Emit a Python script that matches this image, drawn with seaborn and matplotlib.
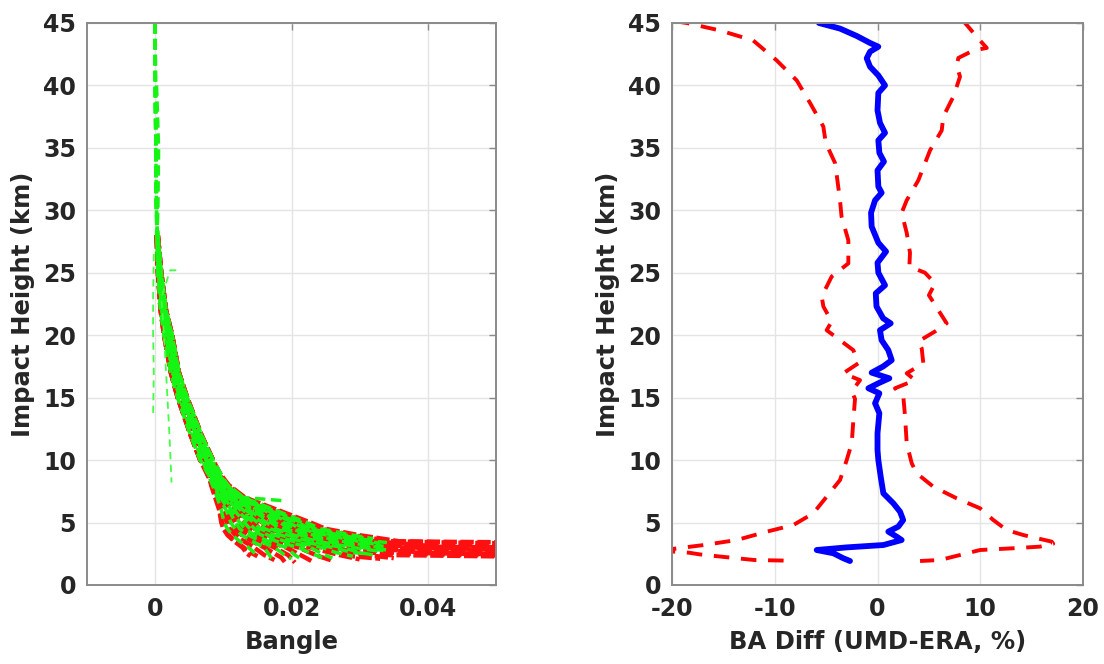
import numpy as np
import pandas as pd
import matplotlib
matplotlib.use("Agg")
import matplotlib.pyplot as plt
import seaborn as sns

N = np.nan

# ---------------- left panel: bending-angle profiles ----------------
GRID_H = [45, 40, 35, 30, 28, 25, 22, 20, 17, 15, 12, 10, 8, 7, 6, 5, 4.5, 4, 3.5, 3]

RED_PROFILES = [
    [N, N, N, N, 0.00025, 0.0005, 0.0010, 0.0016, 0.0026, 0.0036, 0.0055, 0.0069, 0.0083, 0.0090, 0.0095, 0.0098, 0.0102, 0.0108, 0.0118, 0.0130],
    [N, N, N, N, 0.0002, 0.0004, 0.0008, 0.0013, 0.0023, 0.0033, 0.0052, 0.0066, 0.0084, 0.0092, 0.0099, 0.0105, 0.0109, 0.0118, 0.0130, 0.0145],
    [N, N, N, N, 0.0003, 0.0006, 0.0012, 0.0019, 0.0029, 0.0040, 0.0060, 0.0075, 0.0082, 0.0088, 0.0094, 0.0097, 0.0100, 0.0106, 0.0116, 0.0128],
    [N, N, N, N, 0.00025, 0.0005, 0.0010, 0.0016, 0.0026, 0.0036, 0.0055, 0.0069, 0.0086, 0.0094, 0.0104, 0.0111, 0.0117, 0.0127, 0.0142, 0.0160],
    [N, N, N, N, 0.0003, 0.0006, 0.0012, 0.0019, 0.0029, 0.0040, 0.0060, 0.0075, 0.0087, 0.0096, 0.0108, 0.0118, 0.0124, 0.0137, 0.0154, 0.0175],
    [N, N, N, N, 0.00035, 0.0007, 0.0014, 0.0022, 0.0032, 0.0043, 0.0064, 0.0080, 0.0088, 0.0098, 0.0112, 0.0124, 0.0132, 0.0146, 0.0166, 0.0192],
    [N, N, N, N, 0.00025, 0.0005, 0.0010, 0.0016, 0.0026, 0.0036, 0.0055, 0.0069, 0.0089, 0.0100, 0.0116, 0.0131, 0.0139, 0.0156, 0.0178, 0.0210],
    [N, N, N, N, 0.0003, 0.0006, 0.0012, 0.0019, 0.0029, 0.0040, 0.0060, 0.0075, 0.0091, 0.0103, 0.0121, 0.0137, 0.0146, 0.0165, 0.0190, 0.0228],
    [N, N, N, N, 0.0004, 0.0009, 0.0016, 0.0025, 0.0035, 0.0047, 0.0068, 0.0085, 0.0092, 0.0105, 0.0125, 0.0144, 0.0154, 0.0175, 0.0202, 0.0245],
    [N, N, N, N, 0.0002, 0.0004, 0.0008, 0.0013, 0.0023, 0.0033, 0.0052, 0.0066, 0.0093, 0.0107, 0.0129, 0.0150, 0.0161, 0.0184, 0.0214, 0.0260],
    [N, N, N, N, 0.00035, 0.0007, 0.0014, 0.0022, 0.0032, 0.0043, 0.0064, 0.0080, 0.0094, 0.0109, 0.0133, 0.0157, 0.0169, 0.0194, 0.0226, 0.0275],
    [N, N, N, N, 0.0003, 0.0006, 0.0012, 0.0019, 0.0029, 0.0040, 0.0060, 0.0075, 0.0096, 0.0111, 0.0138, 0.0163, 0.0176, 0.0203, 0.0238, 0.0290],
    [N, N, N, N, 0.00025, 0.0005, 0.0010, 0.0016, 0.0026, 0.0036, 0.0055, 0.0069, 0.0097, 0.0113, 0.0142, 0.0170, 0.0183, 0.0213, 0.0250, 0.0305],
    [N, N, N, N, 0.0004, 0.0009, 0.0016, 0.0025, 0.0035, 0.0047, 0.0068, 0.0085, 0.0098, 0.0114, 0.0144, 0.0173, 0.0187, 0.0218, 0.0256, 0.0312],
    [N, N, N, N, 0.00035, 0.0007, 0.0014, 0.0022, 0.0032, 0.0043, 0.0064, 0.0080, 0.0098, 0.0115, 0.0146, 0.0176, 0.0191, 0.0222, 0.0262, 0.0320],
    [N, N, N, N, 0.0003, 0.0006, 0.0012, 0.0019, 0.0029, 0.0040, 0.0060, 0.0075, 0.0099, 0.0117, 0.0150, 0.0183, 0.0198, 0.0232, 0.0274, 0.0340],
    [N, N, N, N, 0.0002, 0.0004, 0.0008, 0.0013, 0.0023, 0.0033, 0.0052, 0.0066, 0.0101, 0.0119, 0.0155, 0.0189, 0.0206, 0.0241, 0.0286, 0.0360],
    [N, N, N, N, 0.00035, 0.0007, 0.0014, 0.0022, 0.0032, 0.0043, 0.0064, 0.0080, 0.0102, 0.0122, 0.0159, 0.0196, 0.0213, 0.0251, 0.0298, 0.0380],
    [N, N, N, N, 0.0003, 0.0006, 0.0012, 0.0019, 0.0029, 0.0040, 0.0060, 0.0075, 0.0103, 0.0124, 0.0163, 0.0202, 0.0220, 0.0260, 0.0310, 0.0400],
    [N, N, N, N, 0.0004, 0.0009, 0.0016, 0.0025, 0.0035, 0.0047, 0.0068, 0.0085, 0.0104, 0.0126, 0.0167, 0.0209, 0.0228, 0.0270, 0.0322, N],
    [N, N, N, N, 0.00025, 0.0005, 0.0010, 0.0016, 0.0026, 0.0036, 0.0055, 0.0069, 0.0104, 0.0126, 0.0167, 0.0209, 0.0228, 0.0270, 0.0322, N],
    [N, N, N, N, 0.00035, 0.0007, 0.0014, 0.0022, 0.0032, 0.0043, 0.0064, 0.0080, 0.0106, 0.0128, 0.0172, 0.0215, 0.0235, 0.0279, 0.0334, N],
    [N, N, N, N, 0.0003, 0.0006, 0.0012, 0.0019, 0.0029, 0.0040, 0.0060, 0.0075, 0.0107, 0.0130, 0.0176, 0.0222, 0.0243, 0.0289, 0.0346, N],
    [N, N, N, N, 0.00035, 0.0007, 0.0014, 0.0022, 0.0032, 0.0043, 0.0064, 0.0080, 0.0108, 0.0132, 0.0180, 0.0228, 0.0250, 0.0298, 0.0358, N],
]
RED_TAIL_B = [[0.0140, 0.0150], [0.0160, 0.0175], [0.0135, 0.0140], [0.0185, 0.0190],
              [0.0195, 0.0205], [0.0220, 0.0230], [0.0240, 0.0260], [0.0270, 0.0300],
              [0.0290, 0.0330], [0.0310, 0.0350], [0.0340, 0.0560], [0.0360, 0.0560],
              [0.0380, 0.0560], [0.0400, 0.0560], [0.0400, 0.0560], [0.0420, 0.0560],
              [0.0440, 0.0560], [0.0460, 0.0560], [0.0470, 0.0560], [0.0400, 0.0560],
              [0.0420, 0.0560], [0.0420, 0.0560], [0.0430, 0.0560], [0.0440, 0.0560]]
RED_TAIL_H = [[2.6, 2.3], [2.4, 2.0], [2.5, 2.3], [2.2, 1.85],
              [2.4, 1.8], [2.2, 1.9], [2.3, 1.95], [2.4, 2.05],
              [2.3, 2.1], [2.4, 2.15], [2.4, 2.25], [2.5, 2.3],
              [2.6, 2.45], [2.55, 2.4], [2.75, 2.6], [2.7, 2.7],
              [2.85, 2.8], [2.9, 2.85], [2.95, 2.95], [3.2, 3.1],
              [3.05, 3.0], [3.35, 3.25], [3.4, 3.3], [3.45, 3.4]]

GREEN_PROFILES = [
    [0.0, 0.00003, 0.0001, 0.0002, 0.00025, 0.0005, 0.0010, 0.0016, 0.0026, 0.0036, 0.0055, 0.0069, 0.0084, 0.0091, 0.0097, 0.0101, 0.0106, 0.0113, 0.0124, 0.0137],
    [N, N, 0.0001, 0.0002, 0.0003, 0.0006, 0.0012, 0.0019, 0.0029, 0.0040, 0.0060, 0.0075, 0.0086, 0.0094, 0.0104, 0.0111, 0.0117, 0.0127, 0.0142, 0.0160],
    [N, N, N, N, 0.0002, 0.0004, 0.0008, 0.0013, 0.0023, 0.0033, 0.0052, 0.0066, 0.0087, 0.0096, 0.0108, 0.0118, 0.0124, 0.0137, 0.0154, 0.0175],
    [0.0, 0.00003, 0.0001, 0.0002, 0.00035, 0.0007, 0.0014, 0.0022, 0.0032, 0.0043, 0.0064, 0.0080, 0.0088, 0.0098, 0.0112, 0.0124, 0.0132, 0.0146, 0.0166, 0.0192],
    [N, N, N, N, 0.0003, 0.0006, 0.0012, 0.0019, 0.0029, 0.0040, 0.0060, 0.0075, 0.0089, 0.0100, 0.0116, 0.0131, 0.0139, 0.0156, 0.0178, 0.0210],
    [N, 0.0002, 0.0005, 0.0004, 0.00025, 0.0005, 0.0010, 0.0016, 0.0026, 0.0036, 0.0055, 0.0069, 0.0091, 0.0103, 0.0121, 0.0137, 0.0146, 0.0165, 0.0190, 0.0228],
    [0.0, 0.00003, 0.0001, 0.0002, 0.0004, 0.0009, 0.0016, 0.0025, 0.0035, 0.0047, 0.0068, 0.0085, 0.0092, 0.0105, 0.0125, 0.0144, 0.0154, 0.0175, 0.0202, 0.0245],
    [N, N, N, N, 0.0003, 0.0006, 0.0012, 0.0019, 0.0029, 0.0040, 0.0060, 0.0075, 0.0093, 0.0107, 0.0129, 0.0150, 0.0161, 0.0184, 0.0214, 0.0260],
    [N, N, N, 0.0002, 0.00035, 0.0007, 0.0014, 0.0022, 0.0032, 0.0043, 0.0064, 0.0080, 0.0094, 0.0109, 0.0133, 0.0157, 0.0169, 0.0194, 0.0226, 0.0275],
    [0.0, 0.00003, 0.0001, 0.0002, 0.00025, 0.0005, 0.0010, 0.0016, 0.0026, 0.0036, 0.0055, 0.0069, 0.0096, 0.0111, 0.0138, 0.0163, 0.0176, 0.0203, 0.0238, 0.0290],
    [N, N, N, N, 0.0004, 0.0009, 0.0016, 0.0025, 0.0035, 0.0047, 0.0068, 0.0085, 0.0097, 0.0113, 0.0142, 0.0170, 0.0183, 0.0213, 0.0250, 0.0305],
    [N, N, N, N, 0.0003, 0.0006, 0.0012, 0.0019, 0.0029, 0.0040, 0.0060, 0.0075, 0.0098, 0.0115, 0.0146, 0.0176, 0.0191, 0.0222, 0.0262, 0.0315],
    [0.0, 0.00003, 0.0001, 0.0002, 0.00035, 0.0007, 0.0014, 0.0022, 0.0032, 0.0043, 0.0064, 0.0080, 0.0100, 0.0117, 0.0150, 0.0183, 0.0198, 0.0232, 0.0274, 0.0330],
    [N, N, N, N, 0.0002, 0.0004, 0.0008, 0.0013, 0.0023, 0.0033, 0.0052, 0.0066, 0.0101, 0.0119, 0.0155, 0.0189, 0.0206, 0.0241, 0.0286, N],
    [N, N, N, N, 0.0003, 0.0006, 0.0012, 0.0019, 0.0029, 0.0040, 0.0060, 0.0075, 0.0102, 0.0122, 0.0159, 0.0196, 0.0213, 0.0251, 0.0298, N],
    [0.0, 0.00003, 0.0001, 0.0002, 0.00025, 0.0005, 0.0010, 0.0016, 0.0026, 0.0036, 0.0055, 0.0069, 0.0103, 0.0124, 0.0163, 0.0202, 0.0220, 0.0260, 0.0310, N],
    [0.0, 0.00003, 0.0001, 0.0002, 0.00035, 0.0007, 0.0014, 0.0022, 0.0032, 0.0043, 0.0064, 0.0080, 0.0104, 0.0126, 0.0167, 0.0209, 0.0228, 0.0270, 0.0322, N],
    [N, N, N, N, 0.0004, 0.0009, 0.0016, 0.0025, 0.0035, 0.0047, 0.0068, 0.0085, 0.0106, 0.0128, 0.0172, 0.0215, 0.0235, 0.0279, N, N],
    [N, N, N, N, 0.0003, 0.0006, 0.0012, 0.0019, 0.0029, 0.0040, 0.0060, 0.0075, 0.0107, 0.0130, 0.0176, 0.0222, 0.0243, 0.0289, N, N],
    [N, N, N, N, N, N, N, N, N, N, N, 0.0078, 0.0102, 0.0130, N, N, N, N, N, N],
]
GREEN_TAIL_B = [[0.0145, 0.0152], [0.0170, 0.0175], [0.0190, 0.0200], [0.0205, 0.0215],
                [0.0230, 0.0245], [0.0245, 0.0260], [0.0265, 0.0290], [0.0290, 0.0310],
                [0.0300, 0.0320], [0.0330], [0.0335], [0.0340], [], [0.0335], [0.0330],
                [0.0330], [0.0340], [0.0310], [0.0320], [0.0188]]
GREEN_TAIL_H = [[2.6, 2.35], [2.2, 2.0], [2.4, 2.1], [2.4, 2.05],
                [2.5, 2.2], [2.5, 2.15], [2.6, 2.3], [2.6, 2.5],
                [2.6, 2.4], [2.7], [2.75], [2.8], [], [3.1], [3.2],
                [3.35], [3.4], [3.75], [3.7], [6.75]]

OUTLIER1_H = [26.5, 23.0, 20.0, 17.0, 13.7]
OUTLIER1_B = [-0.0002, -0.0003, -0.0003, -0.0002, -0.0003]
OUTLIER2_H = [25.2, 25.2, 23.0, 20.0, 15.0, 12.0, 8.2]
OUTLIER2_B = [0.0031, 0.0022, 0.0009, 0.0013, 0.0018, 0.0021, 0.0024]

# ---------------- right panel: BA difference statistics ----------------
BLUE_H = [45.0, 44.55, 43.95, 43.4, 43.1, 42.7, 42.17, 41.5, 40.8, 40.0, 39.4, 38.0, 37.0, 36.2,
          35.6, 34.6, 33.9, 33.2, 31.9, 31.4, 30.8, 29.8, 28.7, 27.4, 26.7, 25.8, 25.0, 24.0,
          23.35, 22.3, 21.35, 20.95, 20.4, 19.6, 18.8, 18.0, 17.5, 17.0, 16.55, 16.15, 15.75,
          15.35, 14.55, 13.75, 12.15, 10.8, 10.0, 8.67, 7.34, 6.54, 5.87, 5.2, 4.67, 4.27, 3.87,
          3.6, 3.2, 3.01, 2.80, 2.54, 2.14, 1.92]
BLUE_V = [-5.7, -3.65, -2.0, -0.73, 0.08, -0.73, -1.05, -0.73, 0.08, 0.73, 0.08, 0.0, 0.24, 0.73,
          0.08, 0.18, 0.63, 0.0, 0.08, 0.40, -0.24, -0.63, -0.57, 0.08, 0.83, 0.0, 0.08, 0.73,
          -0.17, -0.1, 0.55, 1.28, 0.24, 0.40, 1.05, 1.38, 0.55, -0.57, 1.15, 0.08, -0.89,
          0.18, -0.24, 0.18, 0.0, 0.0, 0.08, 0.31, 0.57, 1.54, 2.19, 2.5, 2.02, 1.05, 1.86,
          2.35, 0.57, -3.0, -5.92, -4.3, -3.33, -2.68]

LO_H = [45.15, 45.0, 44.4, 43.6, 42.0, 40.4, 38.6, 36.7, 35.4, 33.8, 33.0, 30.8, 29.5, 27.6, 25.75,
        24.7, 23.1, 22.3, 21.1, 20.4, 19.6, 18.8, 17.75, 16.95, 16.4, 15.5, 14.9, 13.2, 11.35,
        10.0, 8.4, 7.07, 5.74, 4.8, 4.27, 3.6, 3.2, 2.85, 2.7, 2.59, 2.45, 2.25, 2.0, 1.94]
LO_V = [-19.8, -18.57, -15.33, -12.1, -9.81, -7.86, -6.57, -5.27, -5.04, -4.14, -4.0, -3.65, -3.5,
        -2.84, -2.84, -4.46, -5.43, -5.27, -4.46, -4.95, -3.65, -2.35, -1.87, -3.33, -1.7,
        -2.51, -2.19, -2.35, -2.51, -3.0, -3.65, -4.95, -6.25, -8.19, -10.78, -13.7, -16.9,
        -20.3, -20.3, -18.4, -17.3, -15.0, -12.0, -8.3]

HI_H = [45.2, 45.0, 43.9, 43.0, 42.8, 42.2, 41.6, 40.7, 39.1, 37.5, 36.4, 34.8, 32.4, 30.8, 29.8,
        28.2, 26.6, 25.5, 25.0, 24.15, 23.2, 22.55, 20.95, 20.3, 19.5, 18.95, 17.75, 16.95,
        16.4, 15.75, 15.1, 13.5, 11.35, 9.74, 8.94, 7.87, 6.94, 6.14, 5.2, 4.4, 4.0, 3.47,
        3.3, 3.07, 2.94, 2.8, 2.4, 2.0, 1.92]
HI_V = [8.3, 8.52, 9.65, 10.63, 9.33, 7.87, 7.7, 8.03, 7.38, 6.4, 6.25, 5.11, 3.97, 2.84, 2.35,
        2.84, 3.16, 3.1, 4.62, 5.6, 5.0, 5.5, 6.73, 5.6, 3.97, 4.3, 4.46, 2.84, 3.65, 1.7,
        2.51, 2.68, 2.84, 3.33, 3.81, 5.43, 7.7, 9.98, 11.27, 12.57, 14.19, 16.95, 17.1,
        15.8, 13.2, 9.98, 8.03, 6.08, 4.14]

YTICKS = [0, 5, 10, 15, 20, 25, 30, 35, 40, 45]
LEFT_XTICKS = [0, 0.02, 0.04]
LEFT_XTICKLABELS = ["0", "0.02", "0.04"]
RIGHT_XTICKS = [-20, -10, 0, 10, 20]
RIGHT_XTICKLABELS = ["-20", "-10", "0", "10", "20"]


def profiles_frame(rows, tails_b, tails_h):
    recs = []
    for pid, (row, tb, th) in enumerate(zip(rows, tails_b, tails_h)):
        k = 0
        for h, b in zip(GRID_H, row):
            if not np.isnan(b):
                recs.append((pid, k, b, h))
                k += 1
        for b, h in zip(tb, th):
            recs.append((pid, k, b, h))
            k += 1
    return pd.DataFrame(recs, columns=["pid", "k", "bangle", "height"])


sns.set_style("white")
plt.rcParams["font.family"] = ["DejaVu Sans"]
plt.rcParams["font.weight"] = "bold"
plt.rcParams["axes.labelweight"] = "bold"

TXT = "#262626"
SPINE = "#8a8a8a"

fig = plt.figure(figsize=(11.04, 6.64), dpi=100)
ax1 = fig.add_axes([0.0788, 0.119, 0.3705, 0.8464])
ax2 = fig.add_axes([0.6087, 0.119, 0.3723, 0.8464])

red_df = profiles_frame(RED_PROFILES, RED_TAIL_B, RED_TAIL_H)
green_df = profiles_frame(GREEN_PROFILES, GREEN_TAIL_B, GREEN_TAIL_H)

sns.lineplot(data=red_df, x="bangle", y="height", units="pid", estimator=None, sort=False,
             color="#ff1010", lw=3.2, linestyle=(0, (3, 0.8)), ax=ax1, legend=False)
sns.lineplot(data=green_df, x="bangle", y="height", units="pid", estimator=None, sort=False,
             color="#14f514", lw=2.5, linestyle=(0, (3, 1.6)), ax=ax1, legend=False)
sns.lineplot(x=OUTLIER1_B, y=OUTLIER1_H, sort=False, estimator=None, color="#44ff44",
             lw=1.3, linestyle=(0, (4, 3)), ax=ax1)
sns.lineplot(x=OUTLIER2_B, y=OUTLIER2_H, sort=False, estimator=None, color="#44ff44",
             lw=1.3, linestyle=(0, (4, 3)), ax=ax1)

dash_thick = (0, (4, 3))
sns.lineplot(x=LO_V, y=LO_H, sort=False, estimator=None, color="#ff0000", lw=2.8,
             linestyle=dash_thick, ax=ax2)
sns.lineplot(x=HI_V, y=HI_H, sort=False, estimator=None, color="#ff0000", lw=2.8,
             linestyle=dash_thick, ax=ax2)
sns.lineplot(x=BLUE_V, y=BLUE_H, sort=False, estimator=None, color="#0000ff", lw=4.2, ax=ax2)


def style_axes(ax, xlim, xticks, xticklabels, xlabel):
    ax.set_xlim(*xlim)
    ax.set_ylim(0, 45)
    ax.set_xticks(xticks)
    ax.set_xticklabels(xticklabels)
    ax.set_yticks(YTICKS)
    ax.set_yticklabels([str(t) for t in YTICKS])
    ax.grid(True, color="#e4e4e4", lw=1.0)
    ax.set_axisbelow(True)
    for s in ax.spines.values():
        s.set_visible(True)
        s.set_color(SPINE)
        s.set_linewidth(1.4)
    ax.tick_params(direction="in", length=5, width=1, color=SPINE, top=True, right=True,
                   labelsize=17, labelcolor=TXT)
    ax.tick_params(axis="x", pad=9)
    ax.tick_params(axis="y", pad=8)
    for lab in ax.get_xticklabels() + ax.get_yticklabels():
        lab.set_fontweight("bold")
    ax.set_xlabel(xlabel, fontsize=17.5, color=TXT, labelpad=6, fontweight="bold")
    ax.set_ylabel("Impact Height (km)", fontsize=17.5, color=TXT, labelpad=6, fontweight="bold")


style_axes(ax1, (-0.01, 0.05), LEFT_XTICKS, LEFT_XTICKLABELS, "Bangle")
style_axes(ax2, (-20, 20), RIGHT_XTICKS, RIGHT_XTICKLABELS, "BA Diff (UMD-ERA, %)")

fig.savefig("out.png", dpi=100, facecolor="white")
